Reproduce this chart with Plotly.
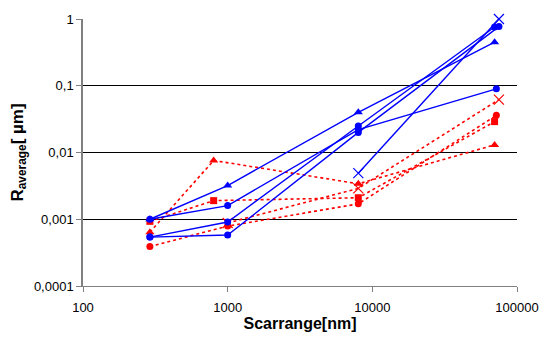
import plotly.graph_objects as go

# Scan range [nm] and R_average [um] per series
red_tri_x = [290, 800, 8000, 70000]
red_tri_y = [0.00064, 0.0076, 0.0034, 0.013]
red_sq_x = [290, 800, 8000, 70000]
red_sq_y = [0.00093, 0.0019, 0.0021, 0.029]
red_ci_x = [290, 1000, 8000, 72000]
red_ci_y = [0.00039, 0.00079, 0.0017, 0.036]
red_x_x = [1000, 8000, 75000]
red_x_y = [0.00088, 0.0029, 0.062]

blue_tri_x = [290, 1000, 8000, 70000]
blue_tri_y = [0.0010, 0.0032, 0.040, 0.45]
blue_c1_x = [290, 1000, 8000, 72000]
blue_c1_y = [0.0010, 0.0016, 0.022, 0.09]
blue_c2_x = [290, 1000, 8000, 70000]
blue_c2_y = [0.00054, 0.00091, 0.025, 0.76]
blue_c3_x = [290, 1000, 8000, 75000]
blue_c3_y = [0.00054, 0.00058, 0.020, 0.77]
blue_x_x = [8000, 75000]
blue_x_y = [0.0049, 1.0]

x_ticks = [100, 1000, 10000, 100000]
x_labels = ["100", "1000", "10000", "100000"]
y_ticks = [0.0001, 0.001, 0.01, 0.1, 1]
y_labels = ["0,0001", "0,001", "0,01", "0,1", "1"]

RED = "#FF0000"
BLUE = "#0000FF"

fig = go.Figure()

def add(xs, ys, color, symbol, dash, size):
    fig.add_trace(go.Scatter(
        x=xs, y=ys, mode="lines+markers",
        line=dict(color=color, width=1.4 if dash == "solid" else 1.6, dash=dash),
        marker=dict(color=color, symbol=symbol, size=size,
                    line=dict(color=color, width=1.2 if "x" in symbol else 0)),
        showlegend=False, cliponaxis=False))

dd = "3px,3px"
add(red_tri_x, red_tri_y, RED, "triangle-up", dd, 8)
add(red_sq_x, red_sq_y, RED, "square", dd, 7)
add(red_ci_x, red_ci_y, RED, "circle", dd, 7)
add(red_x_x, red_x_y, RED, "x-thin", dd, 10)

add(blue_tri_x, blue_tri_y, BLUE, "triangle-up", "solid", 8)
add(blue_c1_x, blue_c1_y, BLUE, "circle", "solid", 7)
add(blue_c2_x, blue_c2_y, BLUE, "circle", "solid", 7)
add(blue_c3_x, blue_c3_y, BLUE, "circle", "solid", 7)
add(blue_x_x, blue_x_y, BLUE, "x-thin", "solid", 10)

font = "Liberation Sans, Arial, sans-serif"
fig.update_layout(
    width=551, height=338,
    margin=dict(l=83, r=34, t=17, b=49),
    paper_bgcolor="white", plot_bgcolor="white",
    font=dict(family=font, size=13, color="black"),
    xaxis=dict(type="log", range=[2, 5], tickvals=x_ticks, ticktext=x_labels,
               showgrid=False, zeroline=False, showline=True, linecolor="#808080",
               linewidth=1, ticks="outside", ticklen=5, tickcolor="#808080",
               ticklabelstandoff=4,
               title=dict(text="<b>Scarrange[nm]</b>", font=dict(size=16), standoff=0)),
    yaxis=dict(type="log", range=[-4, 0], tickvals=y_ticks, ticktext=y_labels,
               showgrid=True, gridcolor="black", gridwidth=1, zeroline=False,
               showline=True, linecolor="#808080", linewidth=1.5,
               ticks="outside", ticklen=5, tickcolor="#808080",
               title=dict(text="<b>R<sub>average</sub>[ µm]</b>", font=dict(size=17), standoff=6)),
)

fig.write_html("out.html")
